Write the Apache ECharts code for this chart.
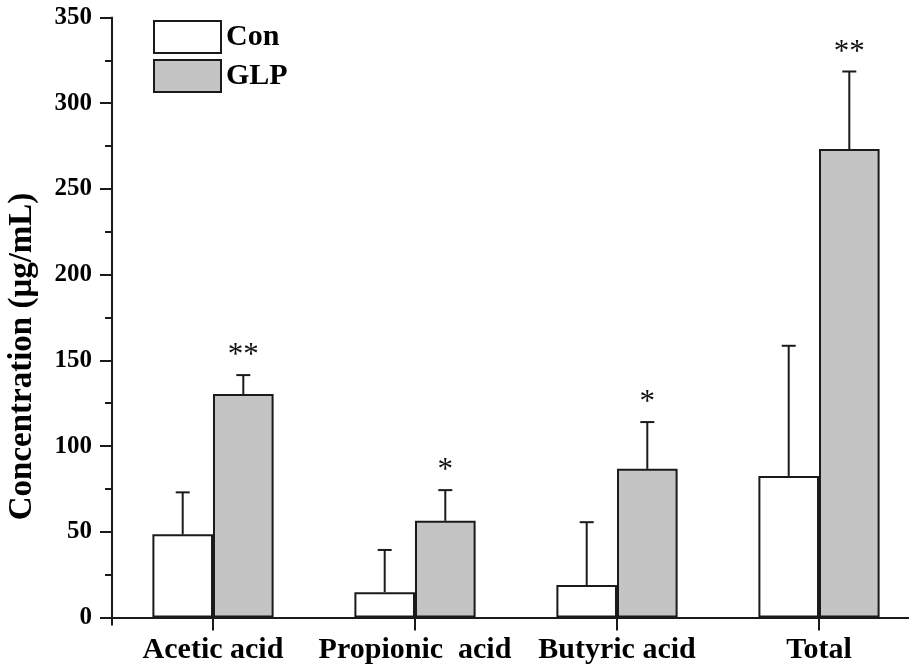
<!DOCTYPE html>
<html>
<head>
<meta charset="utf-8">
<script src="https://cdn.jsdelivr.net/npm/echarts@6/dist/echarts.min.js"></script>
<style>html,body{margin:0;padding:0;background:#fff}#c{width:909px;height:669px}</style>
</head>
<body>
<div id="c"></div>
<script>
const categories = ['Acetic acid', 'Propionic  acid', 'Butyric acid', 'Total'];
const conValues = [48.5, 14.8, 18.9, 82.6];
const conErr = [24.5, 24.6, 36.7, 75.9];
const glpValues = [130.4, 56.4, 86.7, 273.3];
const glpErr = [11.0, 17.9, 27.3, 45.2];
const conStars = ['', '', '', ''];
const glpStars = ['**', '*', '*', '**'];
const yTicks = { min: 0, max: 350, interval: 50 };

const SERIF = '"Liberation Serif", "Times New Roman", serif';
const INK = '#1a1a1a';
const GAP = 0.4;

function errSeries(name, vals, errs, stars, side) {
  return {
    type: 'custom',
    name: name + ' err',
    z: 5,
    silent: true,
    legendHoverLink: false,
    data: vals.map((v, i) => [i, v, errs[i]]),
    renderItem: function (params, api) {
      const idx = api.value(0);
      const v = api.value(1);
      const sd = api.value(2);
      const star = stars[params.dataIndex];
      const band = api.size([1, 0])[0];
      const off = side * band * (1 - GAP) / 4;
      const p0 = api.coord([idx, v]);
      const p1 = api.coord([idx, v + sd]);
      const x = p0[0] + off;
      const cap = 7;
      const children = [
        { type: 'line', shape: { x1: x, y1: p0[1], x2: x, y2: p1[1] }, style: { stroke: INK, lineWidth: 2 } },
        { type: 'line', shape: { x1: x - cap, y1: p1[1], x2: x + cap, y2: p1[1] }, style: { stroke: INK, lineWidth: 2 } }
      ];
      if (star) {
        children.push({ type: 'text', style: { text: star, x: x, y: p1[1] - 19, align: 'center', verticalAlign: 'middle', fontFamily: SERIF, fontSize: 31, fill: '#111' } });
      }
      return { type: 'group', children: children };
    }
  };
}

const chart = echarts.init(document.getElementById('c'), null, { renderer: 'canvas' });
chart.setOption({
  animation: false,
  backgroundColor: '#fff',
  grid: { left: 112, top: 17.5, width: 808, height: 600, containLabel: false, outerBoundsMode: 'none' },
  legend: {
    left: 153, top: 20, padding: 0, orient: 'vertical', itemWidth: 67, itemHeight: 32, itemGap: 5,
    icon: 'rect',
    data: ['Con', 'GLP'],
    textStyle: { fontFamily: SERIF, fontWeight: 'bold', fontSize: 30, color: '#000', lineHeight: 32 }
  },
  xAxis: [{
    type: 'category',
    data: categories,
    axisLine: { show: true, lineStyle: { color: INK, width: 2 } },
    axisTick: { show: true, alignWithLabel: true, interval: 0, inside: false, length: 13, lineStyle: { color: INK, width: 2 } },
    axisLabel: { interval: 0, margin: 18, fontFamily: SERIF, fontWeight: 'bold', fontSize: 30, color: '#000' }
  }, {
    type: 'category',
    data: categories,
    position: 'bottom',
    offset: 0,
    axisLine: { show: false },
    axisLabel: { show: false },
    axisTick: { show: true, interval: function (i) { return i === 0; }, length: 8, lineStyle: { color: INK, width: 2 } }
  }],
  yAxis: {
    type: 'value',
    min: yTicks.min, max: yTicks.max, interval: yTicks.interval,
    name: 'Concentration (μg/mL)',
    nameLocation: 'middle', nameRotate: 90, nameGap: 73,
    nameTextStyle: { fontFamily: SERIF, fontWeight: 'bold', fontSize: 33, color: '#000', padding: [0, 78, 0, 0] },
    axisLine: { show: true, lineStyle: { color: INK, width: 2 } },
    axisTick: { show: true, length: 12, lineStyle: { color: INK, width: 2 } },
    minorTick: { show: true, splitNumber: 2, length: 7, lineStyle: { color: INK, width: 2 } },
    splitLine: { show: false },
    axisLabel: { margin: 20, fontFamily: SERIF, fontWeight: 'bold', fontSize: 25, color: '#000' }
  },
  series: [
    { type: 'bar', name: 'Con', data: conValues, barGap: '0%', barCategoryGap: (GAP * 100) + '%',
      itemStyle: { color: '#ffffff', borderColor: INK, borderWidth: 2 } },
    { type: 'bar', name: 'GLP', data: glpValues, barGap: '0%', barCategoryGap: (GAP * 100) + '%',
      itemStyle: { color: '#c4c4c4', borderColor: INK, borderWidth: 2 } },
    errSeries('Con', conValues, conErr, conStars, -1),
    errSeries('GLP', glpValues, glpErr, glpStars, 1)
  ]
});
</script>
</body>
</html>
